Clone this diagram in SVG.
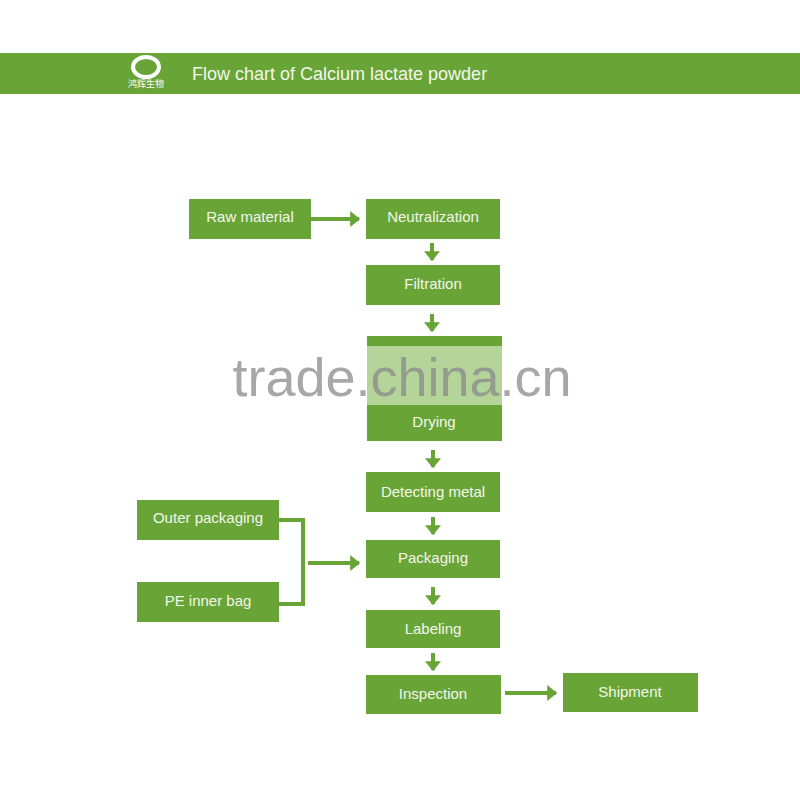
<svg xmlns="http://www.w3.org/2000/svg" width="800" height="788" viewBox="0 0 800 788">
<defs>
<style>
.box{fill:#69a437}
.t{font-family:"Liberation Sans",Arial,sans-serif;font-size:15px;fill:#f2f7ea;text-anchor:middle}
.c{stroke:#69a437;stroke-width:4;fill:none}
</style>
<marker id="ah" markerWidth="4" markerHeight="4" refX="2.2" refY="2" orient="auto" markerUnits="strokeWidth"><path d="M0,0L2.5,2L0,4z" fill="#69a437"/></marker>
</defs>
<rect width="800" height="788" fill="#fff"/>
<g id="header">
<rect x="0" y="53" width="800" height="41" fill="#69a437"/>
<g id="logo">
<ellipse cx="146" cy="67" rx="13" ry="10" fill="none" stroke="#fff" stroke-width="4"/>
<text x="146" y="87" font-family="'Noto Sans CJK SC',sans-serif" font-size="9" fill="#fff" text-anchor="middle">鸿辉生物</text>
</g>
<text x="192" y="80" font-family="'Liberation Sans',Arial,sans-serif" font-size="18" fill="#f2f7ea">Flow chart of Calcium lactate powder</text>
</g>
<g id="connectors">
<line class="c" x1="311" y1="219" x2="359" y2="219" marker-end="url(#ah)"/>
<line class="c" x1="432" y1="243" x2="432" y2="260" marker-end="url(#ah)"/>
<line class="c" x1="432" y1="314" x2="432" y2="331" marker-end="url(#ah)"/>
<line class="c" x1="433" y1="450" x2="433" y2="467" marker-end="url(#ah)"/>
<line class="c" x1="433" y1="517" x2="433" y2="534" marker-end="url(#ah)"/>
<line class="c" x1="433" y1="587" x2="433" y2="604" marker-end="url(#ah)"/>
<line class="c" x1="433" y1="653" x2="433" y2="670" marker-end="url(#ah)"/>
<polyline class="c" points="279,520 303,520 303,604 279,604"/>
<line class="c" x1="308" y1="563" x2="359" y2="563" marker-end="url(#ah)"/>
<line class="c" x1="505" y1="693" x2="556" y2="693" marker-end="url(#ah)"/>
</g>
<g id="raw"><rect class="box" x="189" y="199" width="122" height="40"/><text class="t" x="250" y="222">Raw material</text></g>
<g id="neutralization"><rect class="box" x="366" y="199" width="134" height="40"/><text class="t" x="433" y="222">Neutralization</text></g>
<g id="filtration"><rect class="box" x="366" y="265" width="134" height="40"/><text class="t" x="433" y="289">Filtration</text></g>
<g id="drying"><rect class="box" x="367" y="336" width="135" height="105"/><rect x="367" y="346" width="135" height="59" fill="#b5d49a"/><text class="t" x="434" y="427">Drying</text></g>
<g id="detecting"><rect class="box" x="366" y="472" width="134" height="40"/><text class="t" x="433" y="497">Detecting metal</text></g>
<g id="packaging"><rect class="box" x="366" y="540" width="134" height="38"/><text class="t" x="433" y="563">Packaging</text></g>
<g id="labeling"><rect class="box" x="366" y="610" width="134" height="38"/><text class="t" x="433" y="634">Labeling</text></g>
<g id="inspection"><rect class="box" x="366" y="675" width="135" height="39"/><text class="t" x="433" y="699">Inspection</text></g>
<g id="shipment"><rect class="box" x="563" y="673" width="135" height="39"/><text class="t" x="630" y="697">Shipment</text></g>
<g id="outer"><rect class="box" x="137" y="500" width="142" height="40"/><text class="t" x="208" y="523">Outer packaging</text></g>
<g id="pe"><rect class="box" x="137" y="582" width="142" height="40"/><text class="t" x="208" y="606">PE inner bag</text></g>
<text x="402" y="396" font-family="'Liberation Sans',Arial,sans-serif" font-size="54" fill="#8a8a8a" fill-opacity="0.75" text-anchor="middle">trade.china.cn</text>
</svg>
